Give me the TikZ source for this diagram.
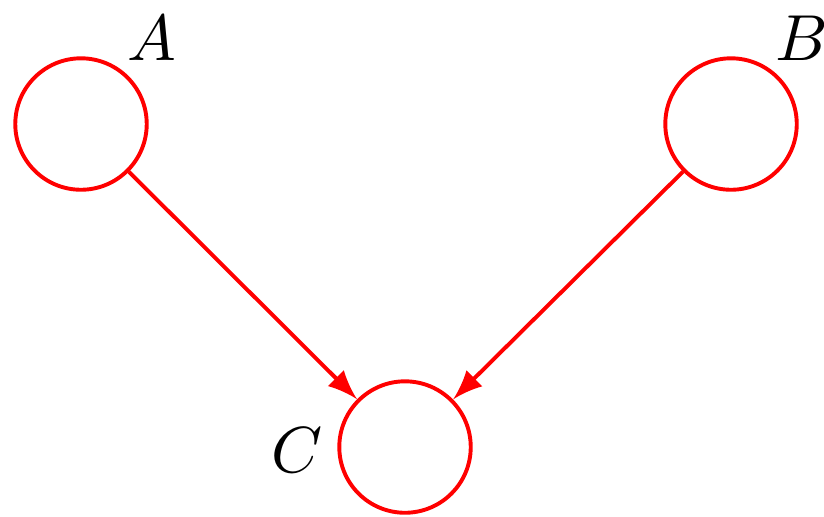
\documentclass[tikz,border=0pt]{standalone}
\usetikzlibrary{arrows,positioning}
\begin{document}
\begin{tikzpicture}[x=0.0054cm,y=-0.0054cm,>=latex,
  var/.style={circle,draw=red,line width=0.6pt,minimum size=0.71cm,inner sep=0pt}]
  \useasboundingbox (0,0) rectangle (824,516);
  % ノード
  \node[var] (A) at (81,124) {};
  \node[var] (B) at (731,124) {};
  \node[var] (C) at (405,447) {};
  \node (la) at (152,38) {$A$};
  \node (lb) at (802,38) {$B$};
  \node (lc) at (297,450) {$C$};

  % 矢印
  \draw[->,red,line width=0.6pt] (A) -- (C);
  \draw[->,red,line width=0.6pt] (B) -- (C);
\end{tikzpicture}
\end{document}
